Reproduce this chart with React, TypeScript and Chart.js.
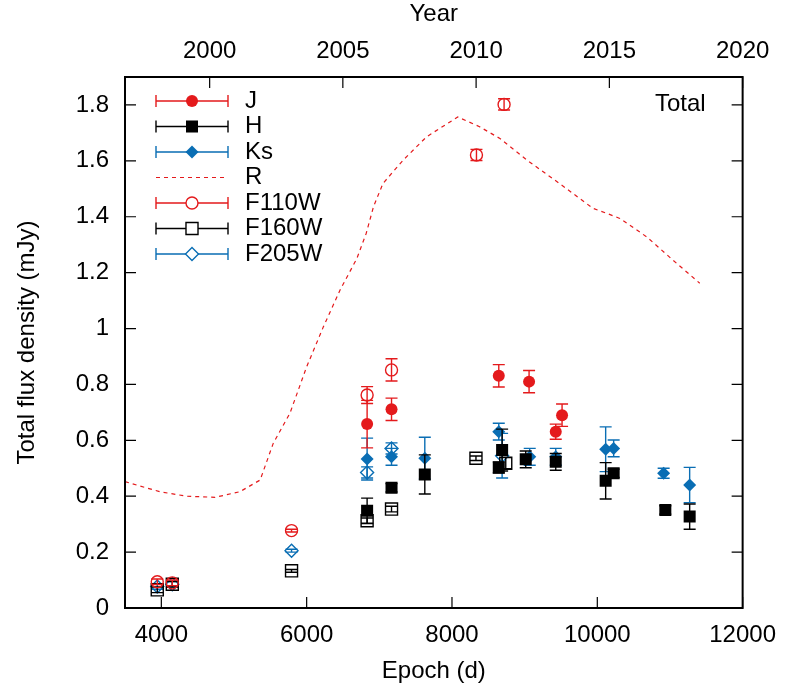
import { useEffect, useRef } from "react";
import { Chart, registerables } from "chart.js";

Chart.register(...registerables);

// values
const jEpoch = [6832, 7168, 8644, 9061, 9428, 9515];
const jFlux = [0.658, 0.711, 0.831, 0.81, 0.631, 0.69];
const jErr = [0.085, 0.04, 0.04, 0.04, 0.027, 0.04];

const hEpoch = [6832, 7168, 7626, 8644, 8690, 9015, 9428, 10115, 10225, 10936, 11271];
const hFlux = [0.348, 0.43, 0.478, 0.503, 0.565, 0.532, 0.523, 0.455, 0.482, 0.351, 0.327];
const hErr = [0.045, 0.015, 0.07, 0.02, 0.075, 0.03, 0.03, 0.065, 0.015, 0.015, 0.045];

const ksEpoch = [6832, 7168, 7626, 8644, 9070, 9428, 10115, 10225, 10913, 11271];
const ksFlux = [0.533, 0.541, 0.536, 0.631, 0.541, 0.541, 0.568, 0.571, 0.482, 0.44];
const ksErr = [0.075, 0.03, 0.075, 0.03, 0.03, 0.03, 0.08, 0.03, 0.018, 0.063];

const rEpoch = [
  3500, 3980, 4350, 4740, 5080, 5360, 5540, 5770, 6000, 6230, 6460, 6690, 6820, 6920,
  7050, 7330, 7650, 8080, 8380, 8660, 9030, 9480, 9940, 10130, 10310, 10680, 11040, 11410,
];
const rFlux = [
  0.452, 0.416, 0.4, 0.396, 0.416, 0.458, 0.589, 0.697, 0.863, 1.006, 1.138, 1.25, 1.341, 1.436,
  1.519, 1.603, 1.686, 1.757, 1.722, 1.68, 1.603, 1.519, 1.43, 1.412, 1.394, 1.328, 1.245, 1.162,
];

const f110Epoch = [3944, 4151, 5792, 6832, 7168, 8337, 8717];
const f110Flux = [0.094, 0.09, 0.277, 0.762, 0.852, 1.621, 1.802];
const f110Err = [0.01, 0.01, 0.005, 0.03, 0.04, 0.02, 0.02];

const f160Epoch = [3944, 4151, 5792, 6832, 7168, 8330, 8740];
const f160Flux = [0.065, 0.085, 0.133, 0.312, 0.354, 0.536, 0.518];
const f160Err = [0.01, 0.01, 0.005, 0.01, 0.01, 0.008, 0.02];

const f205Epoch = [3944, 4151, 5792, 6832, 7168, 8690];
const f205Flux = [0.077, 0.085, 0.205, 0.485, 0.571, 0.545];
const f205Err = [0.01, 0.01, 0.005, 0.02, 0.02, 0.08];

const epochTicks = [4000, 6000, 8000, 10000, 12000];
const fluxTicks = [0, 0.2, 0.4, 0.6, 0.8, 1, 1.2, 1.4, 1.6, 1.8];
const yearLabels = ["2000", "2005", "2010", "2015", "2020"];
const yearEpoch = [4665, 6498, 8332, 10166, 12000];

const RED = "#e41a1c";
const BLUE = "#0a6eb4";
const BLACK = "#000000";
const FONT = "'Liberation Sans', Arial, Helvetica, sans-serif";
const TICK_LEN = 11;
const CAP = 6;

const pts = (xs: number[], ys: number[]) => xs.map((x, i) => ({ x, y: ys[i] }));

function marker(ctx: CanvasRenderingContext2D, style: string, x: number, y: number, r: number, filled: boolean, color: string) {
  ctx.beginPath();
  if (style === "circle") {
    ctx.arc(x, y, r, 0, Math.PI * 2);
  } else if (style === "rect") {
    const s = Math.SQRT1_2 * r;
    ctx.rect(x - s, y - s, 2 * s, 2 * s);
  } else {
    ctx.moveTo(x - r, y);
    ctx.lineTo(x, y - r);
    ctx.lineTo(x + r, y);
    ctx.lineTo(x, y + r);
    ctx.closePath();
  }
  if (filled) {
    ctx.fillStyle = color;
    ctx.fill();
  } else {
    ctx.fillStyle = "#ffffff";
    ctx.fill();
    ctx.strokeStyle = color;
    ctx.lineWidth = 1.4;
    ctx.stroke();
  }
}

const errorBars = {
  id: "errorBars",
  beforeDatasetDraw(chart: any, args: any) {
    const ds = chart.data.datasets[args.index];
    if (!ds.errors) return;
    const { ctx, chartArea, scales } = chart;
    ctx.save();
    ctx.beginPath();
    ctx.rect(chartArea.left, chartArea.top, chartArea.right - chartArea.left, chartArea.bottom - chartArea.top);
    ctx.clip();
    ctx.strokeStyle = ds.borderColor;
    ctx.lineWidth = 1.4;
    ds.data.forEach((p: any, i: number) => {
      const px = scales.x.getPixelForValue(p.x);
      const lo = scales.y.getPixelForValue(p.y - ds.errors[i]);
      const hi = scales.y.getPixelForValue(p.y + ds.errors[i]);
      ctx.beginPath();
      ctx.moveTo(px, lo);
      ctx.lineTo(px, hi);
      ctx.moveTo(px - CAP, lo);
      ctx.lineTo(px + CAP, lo);
      ctx.moveTo(px - CAP, hi);
      ctx.lineTo(px + CAP, hi);
      ctx.stroke();
    });
    ctx.restore();
  },
};

const frame = {
  id: "frame",
  afterDatasetsDraw(chart: any) {
    const { ctx, chartArea: a, scales } = chart;
    ctx.save();
    ctx.strokeStyle = BLACK;
    ctx.lineWidth = 1.2;
    ctx.beginPath();
    scales.x.ticks.forEach((t: any) => {
      const px = scales.x.getPixelForValue(t.value);
      ctx.moveTo(px, a.bottom);
      ctx.lineTo(px, a.bottom - TICK_LEN);
    });
    scales.x2.ticks.forEach((t: any) => {
      const px = scales.x2.getPixelForValue(t.value);
      ctx.moveTo(px, a.top);
      ctx.lineTo(px, a.top + TICK_LEN);
    });
    scales.y.ticks.forEach((t: any) => {
      const py = scales.y.getPixelForValue(t.value);
      ctx.moveTo(a.left, py);
      ctx.lineTo(a.left + TICK_LEN, py);
      ctx.moveTo(a.right, py);
      ctx.lineTo(a.right - TICK_LEN, py);
    });
    ctx.stroke();
    ctx.lineWidth = 2;
    ctx.strokeRect(a.left, a.top, a.right - a.left, a.bottom - a.top);

    // key, top left
    ctx.font = `24px ${FONT}`;
    ctx.textBaseline = "middle";
    chart.data.datasets.forEach((ds: any, i: number) => {
      const y = 101 + i * 25.5;
      const x0 = 156;
      const x1 = 228;
      ctx.strokeStyle = ds.borderColor;
      ctx.lineWidth = ds.errors ? 1.4 : 1.2;
      ctx.setLineDash(ds.errors ? [] : [4, 4]);
      ctx.beginPath();
      ctx.moveTo(x0, y);
      ctx.lineTo(x1, y);
      if (ds.errors) {
        ctx.moveTo(x0, y - CAP);
        ctx.lineTo(x0, y + CAP);
        ctx.moveTo(x1, y - CAP);
        ctx.lineTo(x1, y + CAP);
      }
      ctx.stroke();
      ctx.setLineDash([]);
      if (ds.errors) {
        marker(ctx, ds.pointStyle, (x0 + x1) / 2, y, ds.pointRadius, ds.filled, ds.borderColor);
      }
      ctx.fillStyle = BLACK;
      ctx.textAlign = "left";
      ctx.fillText(ds.label, 245, y);
    });
    ctx.textAlign = "right";
    ctx.fillStyle = BLACK;
    ctx.fillText("Total", a.right - 37, a.top + 27);
    ctx.restore();
  },
};

const series = (label: string, xs: number[], ys: number[], es: number[], color: string, style: string, radius: number, filled: boolean) => ({
  label,
  data: pts(xs, ys),
  errors: es,
  filled,
  pointStyle: style,
  pointRadius: radius,
  pointHoverRadius: radius,
  pointBorderWidth: filled ? 0 : 1.4,
  backgroundColor: filled ? color : "rgba(0,0,0,0)",
  borderColor: color,
  showLine: false,
});

const App = () => {
  const canvasRef = useRef<HTMLCanvasElement | null>(null);
  const chartRef = useRef<Chart | null>(null);

  useEffect(() => {
    document.body.style.margin = "0";
    if (!canvasRef.current) return;
    if (chartRef.current) chartRef.current.destroy();

    const datasets: any[] = [
      series("J", jEpoch, jFlux, jErr, RED, "circle", 6, true),
      series("H", hEpoch, hFlux, hErr, BLACK, "rect", 8.5, true),
      series("Ks", ksEpoch, ksFlux, ksErr, BLUE, "rectRot", 6.5, true),
      {
        label: "R",
        data: pts(rEpoch, rFlux),
        showLine: true,
        borderColor: RED,
        borderWidth: 1.2,
        borderDash: [4, 4],
        pointRadius: 0,
        tension: 0,
      },
      series("F110W", f110Epoch, f110Flux, f110Err, RED, "circle", 6, false),
      series("F160W", f160Epoch, f160Flux, f160Err, BLACK, "rect", 8.5, false),
      series("F205W", f205Epoch, f205Flux, f205Err, BLUE, "rectRot", 6.5, false),
    ];

    const tickFont = { family: FONT, size: 24 };

    chartRef.current = new Chart(canvasRef.current, {
      type: "scatter",
      data: { datasets },
      options: {
        animation: false,
        responsive: false,
        layout: { padding: { left: 0, right: 46, top: 0, bottom: 0 } },
        plugins: { legend: { display: false }, tooltip: { enabled: false } },
        scales: {
          x: {
            type: "linear",
            position: "bottom",
            min: 3500,
            max: 12000,
            grid: { display: false, drawTicks: false },
            border: { display: false },
            ticks: { font: tickFont, color: BLACK, padding: 13, callback: (v: any) => String(v) },
            title: { display: true, text: "Epoch (d)", font: tickFont, color: BLACK, padding: { top: 0, bottom: 4 } },
            afterBuildTicks: (s: any) => {
              s.ticks = epochTicks.map((v) => ({ value: v }));
            },
            afterFit: (s: any) => {
              s.height = 82;
            },
          },
          x2: {
            type: "linear",
            position: "top",
            min: 3500,
            max: 12000,
            grid: { display: false, drawTicks: false },
            border: { display: false },
            ticks: {
              font: tickFont,
              color: BLACK,
              padding: 11,
              callback: (v: any) => {
                const i = yearEpoch.indexOf(Number(v));
                return i >= 0 ? yearLabels[i] : "";
              },
            },
            title: { display: true, text: "Year", font: tickFont, color: BLACK, padding: { top: 0, bottom: 0 } },
            afterBuildTicks: (s: any) => {
              s.ticks = yearEpoch.map((v) => ({ value: v }));
            },
            afterFit: (s: any) => {
              s.height = 77;
            },
          },
          y: {
            type: "linear",
            position: "left",
            min: 0,
            max: 1.9,
            grid: { display: false, drawTicks: false },
            border: { display: false },
            ticks: {
              font: tickFont,
              color: BLACK,
              padding: 16,
              callback: (v: any) => String(Number(Number(v).toFixed(1))),
            },
            title: {
              display: true,
              text: "Total flux density (mJy)",
              font: tickFont,
              color: BLACK,
              padding: { top: 13, bottom: 0 },
            },
            afterBuildTicks: (s: any) => {
              s.ticks = fluxTicks.map((v) => ({ value: v }));
            },
            afterFit: (s: any) => {
              s.width = 125;
            },
          },
        },
      },
      plugins: [errorBars, frame],
    } as any);

    return () => {
      if (chartRef.current) {
        chartRef.current.destroy();
        chartRef.current = null;
      }
    };
  }, []);

  return <canvas ref={canvasRef} width="789" height="690"></canvas>;
};

export default App;
